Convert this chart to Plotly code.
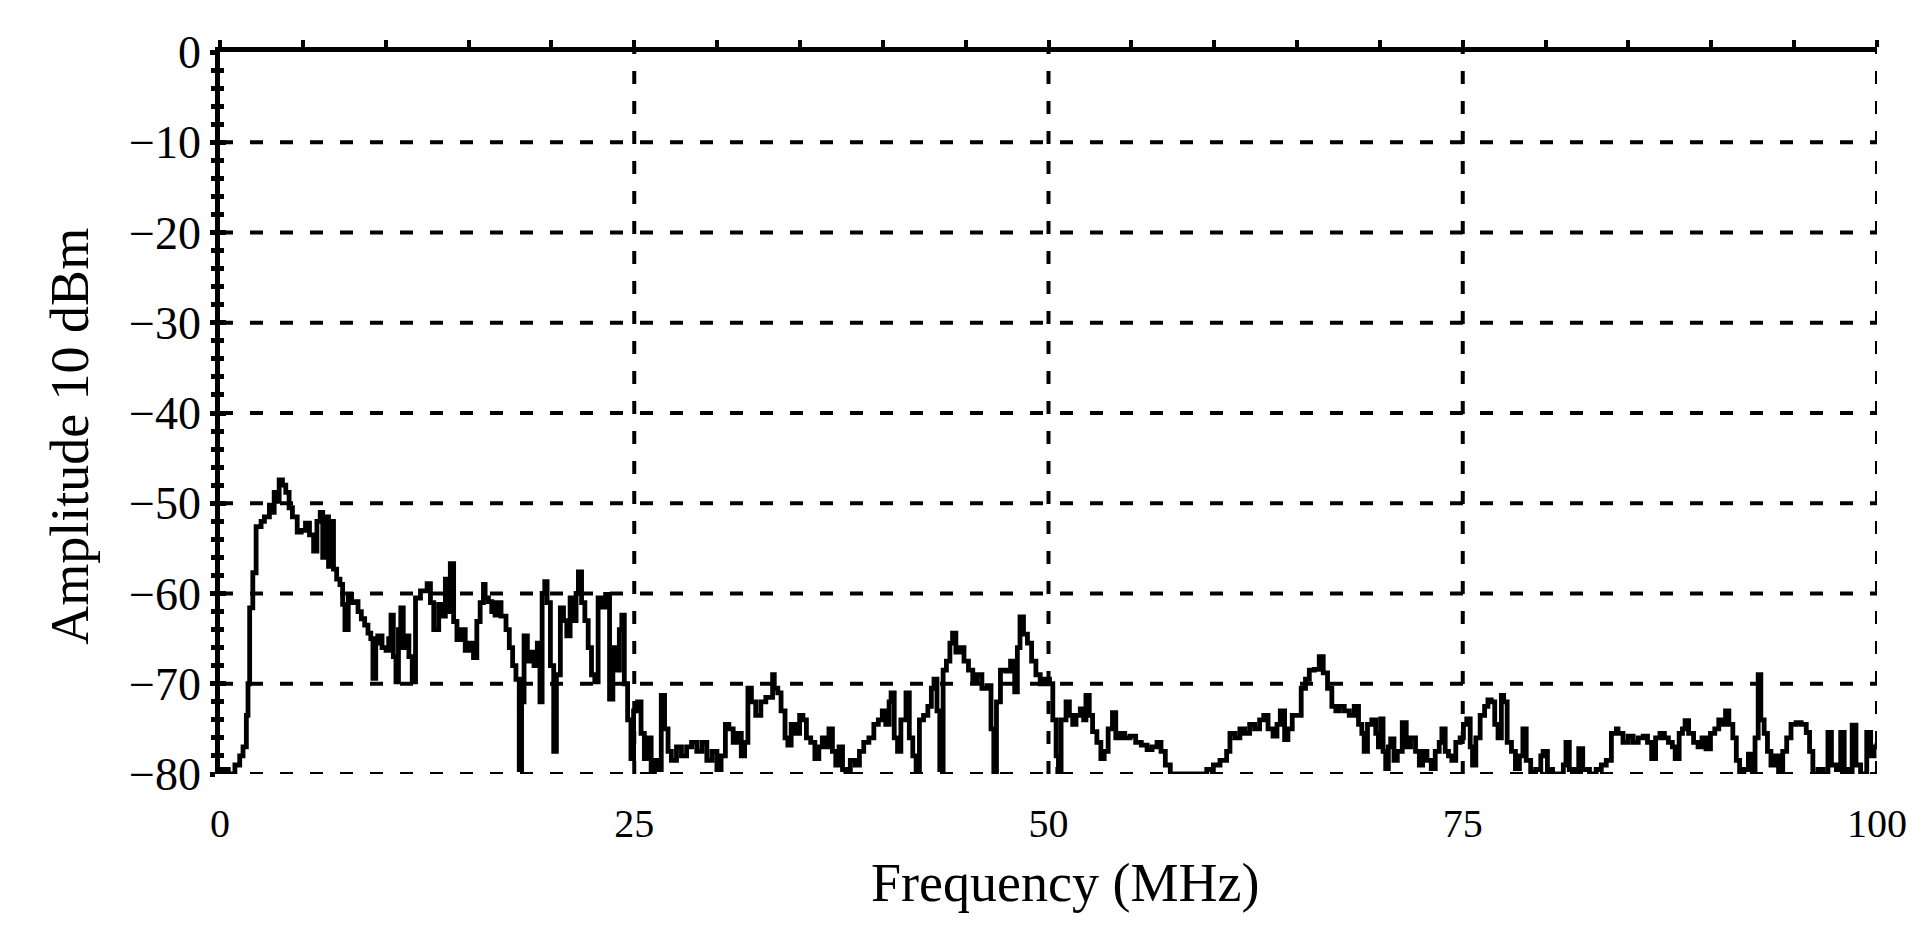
import plotly.graph_objects as go

# spectrum trace (MHz, dBm)
freq_mhz = [
    0.0, 0.1, 0.5, 0.9, 1.19, 1.39, 1.59, 1.69, 1.79, 1.98, 2.18, 2.48, 2.68, 2.98, 3.13, 3.27,
    3.42, 3.57, 3.77, 3.97, 4.17, 4.37, 4.66, 4.9, 5.16, 5.4, 5.65, 5.85, 6.05, 6.2, 6.35, 6.55,
    6.7, 6.85, 7.04, 7.24, 7.4, 7.54, 7.74, 7.94, 8.13, 8.33, 8.53, 8.73, 8.93, 9.1, 9.23, 9.4,
    9.52, 9.78, 10.02, 10.18, 10.32, 10.46, 10.62, 10.77, 10.91, 11.06, 11.21, 11.4, 11.6, 11.8,
    12.1, 12.5, 12.7, 12.9, 13.2, 13.4, 13.6, 13.75, 13.9, 14.1, 14.3, 14.55, 14.8, 15.05, 15.3,
    15.5, 15.7, 15.9, 16.0, 16.2, 16.4, 16.6,
    16.67, 16.96, 17.26, 17.46, 17.66, 17.86, 18.06, 18.2, 18.35, 18.55, 18.75, 18.95, 19.15,
    19.31, 19.44, 19.6, 19.74, 19.94, 20.14, 20.3, 20.54, 20.73, 20.93, 21.13, 21.33, 21.49,
    21.63, 21.82, 22.02, 22.22, 22.42, 22.62, 22.82, 23.08, 23.27, 23.51, 23.71, 23.9, 24.1,
    24.25, 24.4, 24.6, 24.8, 24.96, 25.2, 25.41, 25.61, 25.81, 26.02, 26.22, 26.43, 26.63,
    26.83, 27.04, 27.24, 27.55, 27.85, 28.16, 28.46, 28.77, 29.08, 29.38, 29.69, 29.99, 30.24,
    30.5, 30.71, 30.97, 31.21, 31.46, 31.66, 31.86, 32.07, 32.33, 32.64, 32.94, 33.35,
    33.45, 33.66, 33.86, 34.1, 34.27, 34.47, 34.72, 34.98, 35.18, 35.39, 35.65, 35.9, 36.14,
    36.35, 36.55, 36.75, 36.96, 37.16, 37.36, 37.57, 37.77, 38.04, 38.34, 38.59, 38.85, 39.16,
    39.46, 39.73, 39.97, 40.18, 40.38, 40.5, 40.69, 40.89, 41.09, 41.4, 41.6, 41.81, 42.01,
    42.21, 42.46, 42.72, 42.93, 43.09, 43.27, 43.44, 43.64, 43.84, 44.05, 44.21, 44.41, 44.66,
    44.9, 45.17, 45.43, 45.68, 45.98, 46.29, 46.53, 46.7, 46.86, 47.1, 47.41, 47.71, 47.96,
    48.12, 48.28, 48.49, 48.73, 48.98, 49.24, 49.5, 49.79, 50.06, 50.26, 50.46, 50.6,
    50.56, 50.76, 51.06, 51.26, 51.46, 51.66, 51.92, 52.12, 52.26, 52.46, 52.66, 52.92, 53.16,
    53.36, 53.6, 53.86, 54.06, 54.32, 54.6, 54.92, 55.26, 55.6, 55.95, 56.25, 56.55, 56.79,
    57.05, 57.35, 58.35, 59.15, 59.55, 59.95, 60.35, 60.75, 60.95, 61.25, 61.55, 61.84, 62.14,
    62.44, 62.74, 62.99, 63.25, 63.55, 63.79, 63.99, 64.25, 64.45, 64.71, 64.99, 65.25, 65.51,
    65.74, 66.04, 66.34, 66.58, 66.84, 67.1, 67.34,
    67.55, 67.85, 68.15, 68.45, 68.71, 68.91, 69.05, 69.25, 69.51, 69.75, 69.91, 70.05, 70.19,
    70.35, 70.51, 70.65, 70.85, 71.05, 71.35, 71.59, 71.85, 72.15, 72.38, 72.58, 72.84, 73.1,
    73.34, 73.58, 73.74, 73.94, 74.14, 74.34, 74.58, 74.84, 75.04, 75.24, 75.45, 75.59, 75.79,
    76.05, 76.32, 76.52, 76.72, 76.93, 77.13, 77.33, 77.47, 77.68, 77.94, 78.18, 78.42, 78.63,
    78.83, 79.1, 79.4, 79.71, 79.85, 80.11, 80.42, 80.82, 81.07, 81.23, 81.43, 81.73, 82.0,
    82.24, 82.65, 83.05, 83.36, 83.66, 83.97, 84.27,
    84.37, 84.67, 84.98, 85.28, 85.59, 85.89, 86.15, 86.4, 86.64, 86.9, 87.17, 87.41, 87.65,
    87.82, 88.06, 88.26, 88.42, 88.63, 88.93, 89.2, 89.44, 89.68, 89.95, 90.21, 90.45, 90.66,
    90.86, 91.06, 91.3, 91.51, 91.71, 91.97, 92.24, 92.44, 92.64, 92.83, 92.99, 93.19, 93.39,
    93.6, 93.8, 94.06, 94.31, 94.55, 94.81, 95.12, 95.42, 95.73, 95.93, 96.13, 96.44, 96.74,
    97.04, 97.25, 97.55, 97.81, 98.02, 98.26, 98.5, 98.73, 99.01, 99.38, 99.62, 99.82, 100.0,
]
amp_dbm = [
    -80, -79.5, -80, -79, -78, -77, -73.5, -70, -61.6, -57.7, -52.6, -52, -51.5, -50.2, -51, -48.8,
    -49.8, -47.4, -48, -48.8, -50.5, -51.5, -53.2, -53, -52.2, -53.5, -55.3, -52, -51, -56, -51.5, -57,
    -52, -57.3, -58.4, -59, -61.2, -64, -60.1, -61, -60.9, -62, -62.8, -63.5, -64.4, -65, -69.4, -65.5,
    -64.7, -66, -66.3, -65, -62.4, -67, -69.8, -64, -61.6, -66, -64.7, -67, -69.8, -60.5,
    -59.7, -58.9, -61, -64, -61.2, -62.5, -58.4, -62, -56.7, -63.1, -65.1, -64, -66.3, -65.5, -67.1,
    -63.1, -61, -59, -60.5, -60.9, -62, -62.4,
    -61, -62.5, -64, -66, -68, -69.5, -79.5, -72, -64.7, -67.5, -66.5, -68, -65.5,
    -72, -60, -58.7, -61, -68, -77.5, -69, -61.6, -63, -64.7, -60.5, -63, -60,
    -57.6, -61, -63, -66, -69, -69.8, -60.5, -61.5, -60.1, -71.7, -66, -68.5, -64,
    -62.4, -70, -74, -78.3, -73, -72, -75.5, -78.3, -76, -80, -78.5, -79.5, -71.3,
    -75, -77.5, -78.5, -77, -78, -77, -76.5, -77.5, -76.5, -78.5, -77.5, -79.5, -78,
    -74.5, -75, -76.5, -75.5, -78, -76.5, -70.5, -72, -73.5, -72, -71.5, -69,
    -70.5, -71, -73, -76, -76.8, -74.5, -75.5, -73.5, -74, -76, -76.5, -78.3, -77,
    -76, -77, -75, -77.5, -79, -77, -79.5, -80, -78.5, -79, -77.5, -76.5, -76,
    -74.5, -74, -73, -74.5, -72, -71, -76, -77.5, -74, -71, -76, -78, -80,
    -74, -73.5, -72.5, -70.5, -69.5, -73, -79.5, -68.5, -67.5, -65.5, -64.4, -66.5, -66,
    -67.5, -68.5, -69.8, -69, -70.5, -70.2, -75, -80, -72, -68.5, -68.6, -67.5, -70.9,
    -66, -62.6, -64.5, -65.5, -67.5, -69, -70, -69.5, -70, -74, -78, -79.5,
    -80, -74, -72, -73.5, -74.5, -73.5, -72.8, -74, -71.3, -73.5, -75.3, -76.5, -78.3,
    -77.5, -75, -73.2, -76, -75.5, -76, -75.8, -76.5, -76.8, -77.3, -77, -76.5, -77.5,
    -79, -80, -80, -80, -79.5, -79, -78.5, -77.5, -75.5, -76, -75, -75.5, -74.5,
    -75, -74, -73.5, -75, -75.8, -74.5, -73, -76.2, -75, -73.5, -73.5, -70.5, -69.5,
    -68.5, -68.4, -67, -68.8, -70.5, -72.5, -73,
    -72.5, -73, -73.5, -72.5, -74.5, -75.5, -77.5, -74.5, -74, -75.5, -77, -73.9, -77.5,
    -79.4, -77, -76.1, -78.5, -77.5, -74.3, -77, -76, -77.5, -79, -77.5, -78.5, -79.4,
    -77.5, -76.5, -75, -77.5, -78, -78.5, -76.5, -76, -74.5, -73.9, -77, -79, -76,
    -73.5, -72.5, -71.8, -72, -74.5, -76, -71.3, -72, -76.5, -77.5, -79.4, -78, -75,
    -78.5, -79.8, -79.5, -78, -77.5, -79.5, -80, -80, -79, -76.5, -79.5, -80, -77.2,
    -79.5, -80, -79.5, -79, -78.5, -75.5, -75,
    -75.5, -76.5, -75.8, -76.5, -76, -75.8, -76.5, -78.3, -76, -75.5, -76, -76.5, -77,
    -78.3, -75.5, -75, -74.1, -75.5, -76.5, -77, -76, -77.2, -75.5, -75, -74, -74.5,
    -73, -74.5, -76, -78.5, -79.8, -79.5, -77.8, -79.5, -76, -69, -74, -75.5, -77.5,
    -79, -78, -79.8, -77.5, -76, -74.5, -74.3, -74.5, -75.4, -77.5, -80, -79.5, -80,
    -75.4, -79, -79.5, -75.4, -79.5, -80, -74.6, -79, -80, -75.4, -78, -77, -76.5,
]

x_ticks = [0, 25, 50, 75, 100]
x_grid = [25, 50, 75, 100]
top_ticks = list(range(0, 101, 5))
y_ticks = [0, -10, -20, -30, -40, -50, -60, -70, -80]
y_labels = ["0", "\u221210", "\u221220", "\u221230", "\u221240", "\u221250", "\u221260", "\u221270", "\u221280"]
y_grid = [-10, -20, -30, -40, -50, -60, -70, -80]

fig = go.Figure()
fig.add_trace(go.Scatter(x=freq_mhz, y=amp_dbm, mode="lines",
                         line=dict(color="black", width=4.8, shape="hv"),
                         showlegend=False, hoverinfo="skip"))
# empty helpers so the top axis and inner tick axis get drawn
fig.add_trace(go.Scatter(x=[], y=[], xaxis="x2", yaxis="y", showlegend=False))
fig.add_trace(go.Scatter(x=[], y=[], xaxis="x", yaxis="y2", showlegend=False))

dash = "13px,17px"
for xv in x_grid:
    fig.add_shape(type="line", xref="x", yref="y", x0=xv, x1=xv, y0=min(y_ticks), y1=max(y_ticks),
                  line=dict(color="black", width=4, dash=dash), layer="below")
for yv in y_grid:
    fig.add_shape(type="line", xref="x", yref="y", x0=min(x_ticks), x1=max(x_ticks), y0=yv, y1=yv,
                  line=dict(color="black", width=4, dash=dash), layer="below")

# axis titles sit a bit off-centre in the original, so place them by hand
fig.add_annotation(text="Frequency (MHz)", xref="paper", yref="paper", x=0.51, y=-0.151,
                   xanchor="center", yanchor="middle", showarrow=False, font=dict(size=54))
fig.add_annotation(text="Amplitude 10 dBm", xref="paper", yref="paper", x=-0.0905, y=0.467,
                   xanchor="center", yanchor="middle", textangle=-90, showarrow=False,
                   font=dict(size=54))

fig.update_layout(
    width=1929, height=943,
    margin=dict(l=220, r=52, t=52, b=169),
    paper_bgcolor="white", plot_bgcolor="white",
    font=dict(family="Liberation Serif", size=38, color="black"),
    xaxis=dict(range=[0, 100], tickvals=x_ticks, ticks="", showline=False, showgrid=False,
               zeroline=False, ticklabelstandoff=22, tickfont=dict(size=40)),
    xaxis2=dict(range=[0, 100], overlaying="x", side="top", anchor="y", showline=True,
                linewidth=4.5, linecolor="black", ticks="outside", tickvals=top_ticks,
                ticklen=7, tickwidth=4, tickcolor="black", showticklabels=False,
                showgrid=False, zeroline=False),
    yaxis=dict(range=[-80, 0], tickvals=y_ticks, ticktext=y_labels, showline=True,
               linewidth=4.5, linecolor="black", ticks="outside", ticklen=5, tickwidth=5,
               tickcolor="black", showgrid=False, zeroline=False, tickfont=dict(size=46),
               ticklabelstandoff=0,
               minor=dict(tick0=0, dtick=2, ticks="outside", ticklen=4, tickwidth=5,
                          tickcolor="black")),
    yaxis2=dict(range=[-80, 0], overlaying="y", side="left", anchor="x", showline=False,
                ticks="inside", tickvals=y_ticks, ticklen=6, tickwidth=5, tickcolor="black",
                showticklabels=False, showgrid=False, zeroline=False,
                minor=dict(tick0=0, dtick=2, ticks="inside", ticklen=4, tickwidth=5,
                           tickcolor="black")),
)

fig.write_html("out.html", config={"displayModeBar": False},
               post_script="document.body.style.margin='0';")
